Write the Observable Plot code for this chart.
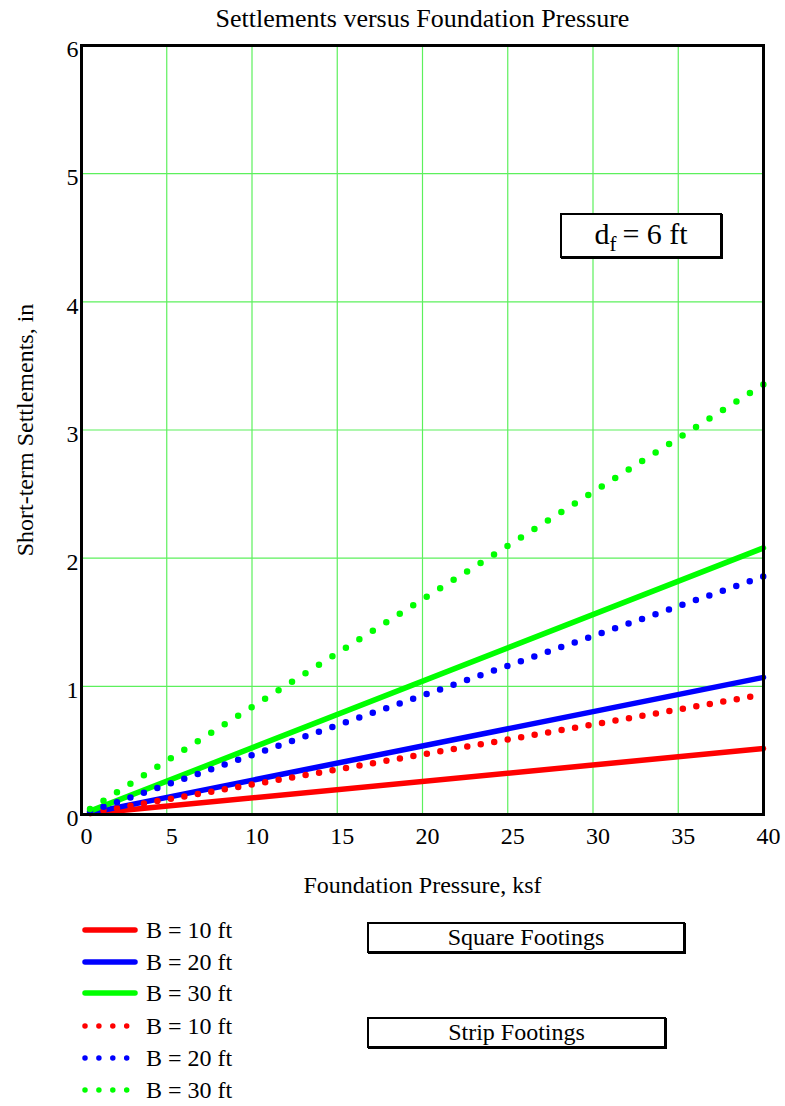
<!DOCTYPE html>
<html><head><meta charset="utf-8">
<script src="https://cdn.jsdelivr.net/npm/d3@7"></script>
<script src="https://cdn.jsdelivr.net/npm/@observablehq/plot@0.6"></script>
<style>
body{margin:0;background:#fff;font-family:"Liberation Serif",serif;color:#000;}
#wrap{position:relative;width:785px;height:1106px;overflow:hidden;}
#chart{position:absolute;left:0;top:0;}
.box{position:absolute;box-sizing:border-box;border:2px solid #000;box-shadow:1px 1px 0 #000;background:#fff;text-align:center;font-size:24px;}
.leg{position:absolute;left:82px;height:20px;display:flex;align-items:center;font-size:24px;}
.leg svg{margin-right:8px;}
</style></head><body>
<div id="wrap"><div id="chart"></div></div>
<script>
// Foundation pressure (ksf) at start and end of each trace
const pressure = [0.5, 40];
// Short-term settlements (in) — square footings
const squareB10 = [0.007, 0.515];
const squareB20 = [0.013, 1.07];
const squareB30 = [0.026, 2.08];
// Short-term settlements (in) — strip footings
const stripB10 = [0.012, 0.936];
const stripB20 = [0.023, 1.857];
const stripB30 = [0.042, 3.355];
const seriesLabels = ["B = 10 ft", "B = 20 ft", "B = 30 ft", "B = 10 ft", "B = 20 ft", "B = 30 ft"];
const xTicks = [0, 5, 10, 15, 20, 25, 30, 35, 40];
const yTicks = [0, 1, 2, 3, 4, 5, 6];

const seriesValues = [squareB10, squareB20, squareB30, stripB10, stripB20, stripB30];
const colors = ["#ff0000", "#0000ff", "#00ff00", "#ff0000", "#0000ff", "#00ff00"];
const dotSpacing = [null, null, null, 13.68, 14.26, 15.92];

const rows = seriesValues.map((vals, i) => pressure.map((q, j) => ({q, s: vals[j], k: i})));

const lineMarks = rows.map((data, i) => Plot.line(data, {
  x: "q", y: "s", stroke: colors[i],
  strokeWidth: i < 3 ? 5.5 : 6.5,
  strokeLinecap: "round",
  strokeDasharray: i < 3 ? null : `0 ${dotSpacing[i]}`
}));

const grid = "#5cf05c";
const serif = '"Liberation Serif", serif';
const plot = Plot.plot({
  width: 785, height: 910,
  marginTop: 45, marginLeft: 81, marginRight: 22, marginBottom: 96,
  style: {fontFamily: serif, fontSize: "24px", color: "#000", background: "#fff"},
  x: {domain: [0, 40]},
  y: {domain: [0, 6]},
  marks: [
    Plot.gridX(xTicks.slice(1, -1), {stroke: grid, strokeOpacity: 1, strokeWidth: 1.2}),
    Plot.gridY(yTicks.slice(1, -1), {stroke: grid, strokeOpacity: 1, strokeWidth: 1.2}),
    ...lineMarks,
    Plot.frame({stroke: "#000", strokeWidth: 3}),
    Plot.axisX({ticks: xTicks, tickFormat: d => String(d), tickSize: 0, tickPadding: 12, dx: 5, fontSize: 24, fontFamily: serif, label: null}),
    Plot.axisY({ticks: yTicks, tickFormat: d => String(d), tickSize: 0, tickPadding: 3, dy: 4, fontSize: 24, fontFamily: serif, label: null}),
    Plot.text(["Settlements versus Foundation Pressure"], {frameAnchor: "top", textAnchor: "middle", lineAnchor: "middle", dy: -27, fontSize: 26, fontFamily: serif}),
    Plot.text(["Foundation Pressure, ksf"], {frameAnchor: "bottom", textAnchor: "middle", lineAnchor: "middle", dy: 71, fontSize: 24, fontFamily: serif}),
    Plot.text(["Short-term Settlements, in"], {frameAnchor: "left", textAnchor: "middle", lineAnchor: "middle", dx: -56, rotate: -90, fontSize: 24, fontFamily: serif})
  ]
});
document.getElementById("chart").appendChild(plot);

const wrap = document.getElementById("wrap");
// d_f annotation
const df = document.createElement("div");
df.className = "box";
Object.assign(df.style, {left: "560px", top: "213px", width: "162px", height: "45px", fontSize: "30px", lineHeight: "38px"});
df.innerHTML = '<span>d<span style="font-size:21px;position:relative;top:7px;">f</span>&#8201;= 6 ft</span>';
wrap.appendChild(df);

// footing-type boxes
[["Square Footings", 367, 922, 318], ["Strip Footings", 367, 1017, 299]].forEach(([t, l, tp, w]) => {
  const b = document.createElement("div");
  b.className = "box";
  Object.assign(b.style, {left: l + "px", top: tp + "px", width: w + "px", height: "31px", lineHeight: "26px"});
  b.textContent = t;
  wrap.appendChild(b);
});

// legend
const legY = [930, 962, 993, 1026, 1058, 1090];
seriesLabels.forEach((lab, i) => {
  const d = document.createElement("div");
  d.className = "leg";
  d.style.top = (legY[i] - 10) + "px";
  const solid = i < 3;
  d.innerHTML = solid
    ? `<svg width="56" height="12"><line x1="3" x2="53" y1="6" y2="6" stroke="${colors[i]}" stroke-width="5.5" stroke-linecap="round"/></svg><span>${lab}</span>`
    : `<svg width="56" height="12"><line x1="3" x2="45" y1="6" y2="6" stroke="${colors[i]}" stroke-width="5.5" stroke-linecap="round" stroke-dasharray="0 13.9"/></svg><span>${lab}</span>`;
  wrap.appendChild(d);
});
</script>
</body></html>
